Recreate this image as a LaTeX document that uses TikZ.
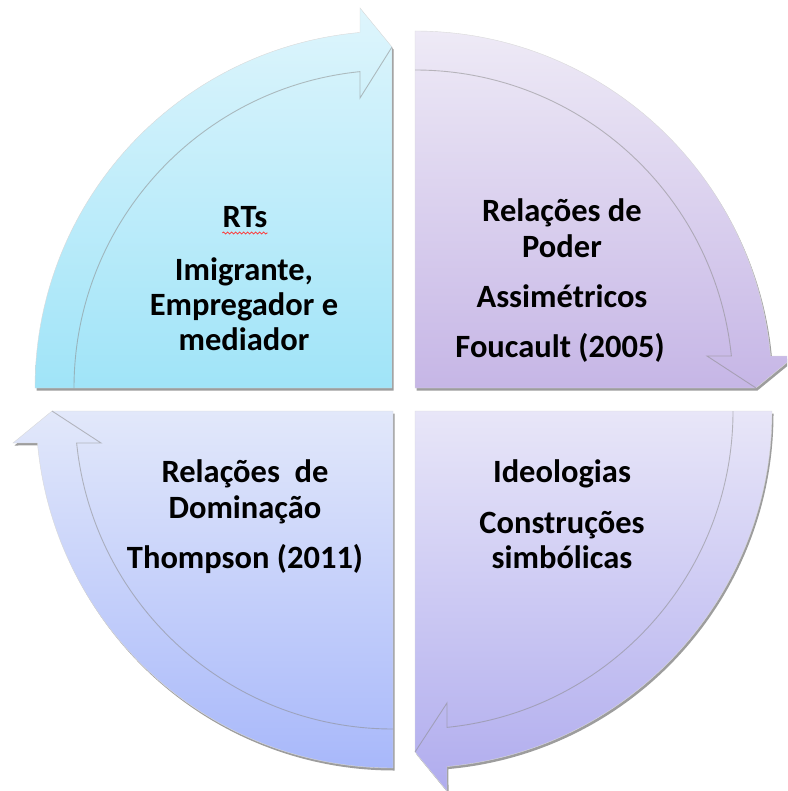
\documentclass[tikz,border=0pt]{standalone}
\usepackage{fontspec}
\setmainfont{Carlito}
\usetikzlibrary{shadows,decorations.pathmorphing}
\definecolor{tlTop}{HTML}{DEF5FC}
\definecolor{tlBot}{HTML}{A0E4F8}
\definecolor{trTop}{HTML}{EEEAF6}
\definecolor{trBot}{HTML}{C6B6E6}
\definecolor{blTop}{HTML}{E2E8FA}
\definecolor{blBot}{HTML}{A8B8FA}
\definecolor{brTop}{HTML}{E8E6F8}
\definecolor{brBot}{HTML}{B0ACEE}
\begin{document}
\begin{tikzpicture}[x=1pt,y=1pt,
  lbl/.style={anchor=base, font=\fontsize{32.5}{38}\selectfont\bfseries, inner sep=0pt},
  seg/.style={draw=black!15, line width=0.4pt,
    drop shadow={shadow xshift=1.5pt,shadow yshift=-2.5pt,opacity=0.55,fill=black!70}},
  innerline/.style={draw=black!45, line width=0.9pt, draw opacity=0.55}]
\useasboundingbox (0,0) rectangle (787,-791);
\clip (0,0) rectangle (787,-791);
% top-left
\path[seg, top color=tlTop, bottom color=tlBot]
  (392,-388) -- (35,-388) arc[start angle=180,end angle=95.14,radius=357]
  -- (360,-8) -- (392,-47) -- cycle;
\draw[innerline] (74,-388) arc[start angle=180,end angle=95.78,radius=318]
  -- (360,-98) -- (392,-47);
% top-right
\path[seg, top color=trTop, bottom color=trBot]
  (415,-388) -- (415,-31) arc[start angle=90,end angle=5.14,radius=357]
  -- (795,-356) -- (756,-388) -- cycle;
\draw[innerline] (415,-70) arc[start angle=90,end angle=5.78,radius=318]
  -- (707,-356) -- (756,-388);
% bottom-right
\path[seg, top color=brTop, bottom color=brBot]
  (415,-411) -- (772,-411) arc[start angle=0,end angle=-84.86,radius=357]
  -- (447,-791) -- (415,-752) -- cycle;
\draw[innerline] (733,-411) arc[start angle=0,end angle=-84.22,radius=318]
  -- (447,-703) -- (415,-752);
% bottom-left
\path[seg, top color=blTop, bottom color=blBot]
  (393,-411) -- (393,-768) arc[start angle=-90,end angle=-174.86,radius=357]
  -- (13,-443) -- (52,-411) -- cycle;
\draw[innerline] (393,-729) arc[start angle=-90,end angle=-174.22,radius=318]
  -- (101,-443) -- (52,-411);
% texts
\node[lbl] (tl1) at (245,-228) {RTs};
\node[lbl] (tl2) at (244,-280) {Imigrante,};
\node[lbl] (tl3) at (244,-315) {Empregador e};
\node[lbl] (tl4) at (244,-350) {mediador};
\draw[red!80, line width=0.8pt, decorate, decoration={snake, amplitude=1pt, segment length=4pt}]
  ([yshift=-5pt]tl1.base west) -- ([yshift=-5pt]tl1.base east);
\node[lbl] (tr1) at (562,-222) {Relações de};
\node[lbl] (tr2) at (562,-258) {Poder};
\node[lbl] (tr3) at (562,-307) {Assimétricos};
\node[lbl] (tr4) at (560,-357) {Foucault (2005)};
\node[lbl] (bl1) at (245,-482) {Relações\ \ de};
\node[lbl] (bl2) at (245,-518) {Dominação};
\node[lbl] (bl3) at (245,-568) {Thompson (2011)};
\node[lbl] (br1) at (562,-482) {Ideologias};
\node[lbl] (br2) at (562,-533) {Construções};
\node[lbl] (br3) at (562,-568) {simbólicas};
\end{tikzpicture}
\end{document}
